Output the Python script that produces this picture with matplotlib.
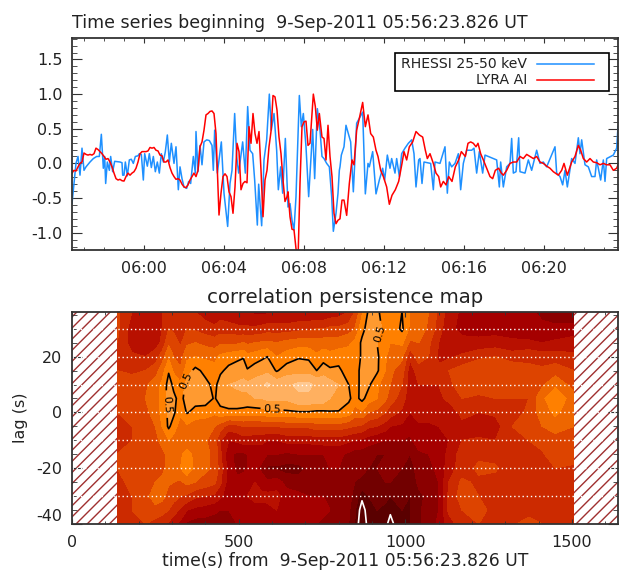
import matplotlib
matplotlib.use('Agg')
import matplotlib.pyplot as plt
import numpy as np
from matplotlib.patches import Rectangle
from matplotlib.ticker import MultipleLocator

# seconds after 05:56:24
rhessi_t = [0, 6, 12, 18, 24, 30, 36, 42, 54, 64, 74, 82, 88, 94, 98, 101, 106, 112, 116, 122, 128, 144, 150, 152, 156, 160,
            166, 172, 178, 184, 190, 198, 202, 208, 214, 218, 226, 232, 238, 244, 250, 256, 262, 268, 274, 280, 286, 292,
            298, 306, 312, 319, 324, 330, 336, 344, 350, 356, 364, 370, 372, 378, 384, 390, 396, 404, 412, 420, 424, 428,
            436, 448, 456, 467, 474, 480, 488, 494, 500, 512, 520, 527, 534, 542, 548, 556, 560, 569, 576, 584, 592, 598,
            606, 614, 619, 626, 632, 640, 648, 654, 660, 666, 672, 682, 688, 694, 702, 710, 716, 722, 728, 736, 744, 750,
            756, 764, 772, 779, 784, 792, 798, 802, 804, 808, 816, 822, 829, 836, 844, 854, 864, 872, 880, 888, 892, 902,
            912, 922, 932, 938, 946, 954, 959, 969, 974, 982, 989, 999, 1009, 1019, 1026, 1032, 1040, 1044, 1050, 1056,
            1076, 1084, 1089, 1104, 1119, 1126, 1132, 1139, 1149, 1159, 1166, 1174, 1184, 1199, 1206, 1214, 1222, 1232,
            1239, 1249, 1274, 1282, 1286, 1294, 1304, 1314, 1319, 1324, 1332, 1340, 1344, 1359, 1369, 1379, 1394, 1404,
            1414, 1424, 1449, 1454, 1464, 1472, 1479, 1486, 1499, 1509, 1519, 1524, 1529, 1539, 1549, 1559, 1569, 1574,
            1586, 1594, 1599, 1604, 1624, 1634, 1638]
rhessi_v = [-.58, -.29, 0, .10, -.17, .22, -.10, -.05, .02, .07, .10, .10, .42, -.07, .10, -.29, .02, -.10, .10, -.12, .03,
            .02, .01, -.17, -.17, .02, -.18, .05, .06, 0, .10, .11, .14, .13, -.24, .14, -.04, .14, -.06, .10, -.12, .02,
            -.14, .14, .02, .17, .41, .02, .29, 0, .24, -.38, -.05, -.22, -.34, -.36, -.26, -.29, .10, -.14, .46, -.12,
            .26, -.02, .31, .34, .33, .26, -.10, .48, -.14, .31, -.43, -.91, -.29, -.10, .72, .10, -.14, .31, -.14, .82,
            .19, .14, -.24, -.89, -.30, -.90, .05, .34, 1.0, .48, .72, .19, -.38, -.05, -.43, .36, -.63, -.58, -.82, -.96,
            -.48, .98, .53, .72, .24, -.48, 0, .49, -.22, .79, .48, .10, .07, 0, -.05, -.48, -.98, -.72, -.43, -.10, -.05,
            .12, .24, .55, .43, .31, -.41, .58, .67, .74, -.44, 0, -.05, .17, -.44, -.24, -.07, -.24, .12, -.07, .07, -.14,
            .07, -.19, .14, .22, .29, .34, .14, -.34, .05, .07, -.29, .02, 0, -.38, .02, 0, .24, -.43, .02, -.05, 0, .14,
            -.38, 0, .19, .19, .22, -.14, .17, -.14, .12, .10, .05, -.34, .02, -.34, -.05, 0, .36, -.14, -.12, .37, -.12,
            -.14, .05, -.10, .19, 0, .02, -.05, .24, -.14, -.19, -.31, -.10, -.34, .07, 0, .37, .14, .34, -.02, -.05, -.19,
            -.19, .05, -.24, .05, -.26, .07, .12, .22, .53]

lyra_t = [0, 6, 12, 18, 24, 30, 36, 42, 48, 54, 60, 66, 72, 78, 84, 90, 96, 102, 108, 114, 120, 126, 132, 138, 144, 150, 156,
          162, 168, 174, 180, 186, 192, 198, 204, 210, 216, 222, 228, 234, 240, 246, 252, 258, 264, 270, 276, 282, 288, 294,
          300, 306, 312, 318, 324, 330, 336, 342, 348, 354, 360, 366, 372, 378, 384, 390, 396, 402, 408, 414, 420, 426, 432,
          438, 441, 447, 453, 459, 465, 471, 477, 483, 489, 495, 501, 507, 513, 519, 525, 531, 537, 543, 549, 555, 561, 567,
          573, 579, 585, 591, 597, 603, 609, 615, 621, 627, 633, 639, 645, 648, 654, 660, 666, 672, 678, 684, 690, 696, 702,
          708, 714, 720, 724, 730, 736, 742, 750, 756, 762, 768, 774, 780, 786, 792, 798, 804, 810, 816, 824, 832, 840, 846,
          854, 862, 872, 880, 888, 896, 904, 912, 918, 926, 934, 944, 952, 960, 970, 980, 990, 996, 1004, 1012, 1022, 1032,
          1042, 1052, 1060, 1066, 1074, 1084, 1092, 1100, 1106, 1114, 1122, 1130, 1140, 1150, 1160, 1168, 1180, 1188, 1196,
          1204, 1212, 1218, 1226, 1234, 1244, 1254, 1262, 1270, 1280, 1288, 1294, 1304, 1314, 1324, 1334, 1344, 1354, 1364,
          1374, 1384, 1394, 1404, 1414, 1424, 1434, 1444, 1459, 1469, 1476, 1486, 1499, 1509, 1519, 1526, 1534, 1544, 1554,
          1564, 1574, 1584, 1594, 1604, 1614, 1624, 1634, 1638]
lyra_v = [-.14, -.10, -.11, -.05, 0, .02, .15, .13, .12, .13, .12, .14, .22, .20, .17, .14, .10, .06, .07, .02, -.05, -.14,
          -.22, -.24, -.23, -.25, -.255, -.19, -.14, -.17, -.14, -.12, -.07, .02, .14, .17, .17, .17, .18, .23, .22, .23,
          .19, .18, .12, .11, .02, .02, .05, -.06, -.14, -.19, -.23, -.22, -.24, -.30, -.34, -.35, -.31, -.24, -.19, -.14,
          -.19, -.10, .24, .31, .48, .70, .72, .75, .757, .72, .43, -.38, -.745, -.43, -.19, -.15, -.19, -.41, -.48, -.72,
          -.34, .29, .17, -.38, -.29, -.26, -.28, .53, .29, .72, .43, .29, .46, -.10, -.77, -.24, -.10, .24, .46, .98, .96,
          .77, .38, .14, -.24, -.55, -.48, -.41, -.77, -.95, -.96, -1.23, -1.4, -.29, .53, .60, .61, .26, .29, .72, 1.0,
          .82, .48, .72, .38, .36, .05, .55, .10, -.19, -.72, -.87, -.82, -.80, -.53, -.53, -.75, -.29, .05, -.02, .48, .65,
          .88, .53, .70, .43, .38, .19, .10, -.10, -.19, -.34, -.59, -.46, -.38, -.26, 0, .17, .05, .24, .31, .46, .41, .38,
          .19, .07, .14, 0, -.14, -.19, -.34, -.26, -.31, -.19, -.26, -.05, .05, .17, .10, .29, .31, .29, .24, .29, .14, .05,
          -.07, -.19, -.22, -.10, -.07, -.14, -.17, -.10, 0, .02, .02, .10, .07, .13, .10, .07, .10, .02, 0, -.04, -.07,
          -.12, -.17, -.10, 0, -.17, .02, .10, .26, .19, .07, .02, .07, .02, .01, -.02, 0, -.02, -.02, -.10, -.07, -.02]

# correlation map, one row per lag, one column per time
map_lag = [36, 30, 25, 20, 15, 10, 5, 0, -5, -10, -15, -20, -25, -30, -35, -40]
map_columns = {
    136: [.22, .22, .20, .18, .20, .25, .22, .20, .15, .15, .20, .20, .18, .20, .15, .12],
    180: [.10, .05, .05, .12, .18, .25, .27, .25, .20, .20, .22, .22, .22, .20, .20, .15],
    220: [.02, 0, .02, .10, .20, .28, .30, .28, .25, .25, .25, .28, .28, .28, .26, .20],
    250: [.05, .03, .05, .15, .25, .35, .35, .33, .30, .28, .27, .28, .30, .33, .28, .15],
    270: [.10, .10, .12, .25, .35, .42, .44, .44, .40, .32, .28, .29, .31, .33, .25, .12],
    290: [.15, .20, .28, .38, .49, .54, .54, .52, .52, .40, .32, .31, .31, .27, .20, .08],
    305: [.12, .18, .25, .30, .38, .48, .52, .52, .45, .36, .32, .33, .30, .24, .15, .03],
    325: [.10, .12, .18, .25, .32, .42, .47, .42, .35, .33, .38, .40, .28, .20, .08, -.03],
    345: [.12, .20, .28, .38, .45, .54, .54, .51, .38, .32, .44, .47, .33, .18, 0, -.12],
    370: [.10, .18, .30, .40, .53, .56, .55, .46, .34, .33, .37, .37, .30, .12, -.03, -.15],
    400: [.05, .15, .27, .38, .47, .53, .55, .45, .33, .31, .32, .32, .26, .10, -.05, -.15],
    428: [.03, .12, .25, .37, .44, .47, .49, .42, .30, .25, .28, .28, .22, .08, -.08, -.15],
    445: [.05, .15, .28, .42, .48, .55, .55, .46, .25, .10, .12, .15, .12, .02, -.10, -.15],
    470: [.02, .15, .28, .45, .53, .60, .58, .47, .15, 0, -.08, -.05, -.05, -.05, -.10, -.12],
    495: [0, .13, .28, .47, .56, .61, .58, .47, .17, .02, -.12, -.12, -.08, -.05, -.08, -.10],
    514: [0, .12, .30, .49, .57, .62, .58, .46, .20, .05, -.12, -.12, -.06, -.03, -.08, -.08],
    526: [0, .12, .28, .43, .51, .62, .58, .45, .20, .05, -.10, -.10, -.04, 0, -.06, -.06],
    548: [-.02, .12, .30, .45, .55, .64, .60, .45, .20, .03, -.06, -.08, 0, .03, -.04, -.05],
    568: [-.02, .13, .31, .48, .56, .67, .60, .46, .20, .03, -.06, -.12, -.05, .03, -.04, -.05],
    586: [-.02, .15, .32, .50, .57, .72, .62, .47, .20, 0, -.10, -.22, -.08, .03, -.03, -.05],
    614: [-.02, .15, .30, .40, .49, .66, .62, .47, .20, 0, -.10, -.22, -.05, .03, 0, -.03],
    644: [-.02, .15, .33, .45, .55, .68, .62, .48, .22, .03, -.12, -.24, -.14, -.05, -.02, -.05],
    680: [0, .17, .35, .49, .56, .72, .68, .49, .22, .03, -.10, -.24, -.15, -.08, -.05, -.08],
    710: [0, .18, .35, .48, .56, .72, .68, .49, .22, .03, -.10, -.18, -.15, -.10, -.06, -.10],
    734: [0, .20, .34, .42, .50, .68, .66, .48, .25, .05, -.10, -.15, -.12, -.10, -.08, -.10],
    754: [0, .20, .35, .46, .55, .68, .66, .48, .25, .05, -.10, -.13, -.12, -.10, -.08, -.12],
    774: [.03, .22, .35, .43, .52, .64, .60, .49, .25, .05, -.08, -.10, -.12, -.12, -.10, -.12],
    800: [.05, .22, .35, .46, .52, .60, .58, .49, .25, .05, -.08, -.10, -.12, -.12, -.12, -.15],
    830: [.10, .25, .38, .45, .45, .50, .52, .45, .22, .02, -.12, -.12, -.15, -.18, -.18, -.20],
    848: [.20, .30, .42, .46, .47, .47, .46, .35, .20, 0, -.15, -.15, -.20, -.22, -.28, -.30],
    870: [.38, .47, .52, .51, .52, .52, .53, .38, .18, -.02, -.15, -.18, -.22, -.37, -.46, -.50],
    890: [.52, .54, .53, .55, .55, .52, .45, .30, .12, -.05, -.18, -.20, -.25, -.30, -.33, -.35],
    915: [.53, .55, .50, .52, .52, .42, .40, .27, .10, -.08, -.20, -.20, -.22, -.28, -.30, -.30],
    940: [.42, .46, .44, .42, .40, .35, .32, .20, .05, -.10, -.20, -.18, -.20, -.27, -.33, -.37],
    955: [.40, .42, .40, .33, .32, .30, .25, .15, 0, -.10, -.17, -.17, -.20, -.30, -.38, -.44],
    990: [.50, .52, .42, .32, .25, .20, .15, .08, -.02, -.10, -.18, -.20, -.22, -.28, -.30, -.30],
    1014: [.40, .38, .28, .12, .05, .05, .03, 0, -.06, -.12, -.20, -.25, -.26, -.30, -.30, -.30],
    1040: [.38, .36, .30, .25, .15, .10, .08, .05, -.02, -.05, -.12, -.15, -.18, -.22, -.22, -.22],
    1070: [.30, .28, .22, .20, .15, .10, .08, .05, -.02, -.05, -.10, -.12, -.15, -.18, -.15, -.15],
    1100: [.18, .15, .10, .08, .12, .10, .08, .05, 0, -.03, -.05, -.08, -.10, -.10, -.10, -.08],
    1130: [.05, .02, .02, .08, .20, .18, .12, .05, .02, 0, .02, .05, .10, .12, .12, .05],
    1170: [-.02, -.02, .02, .12, .25, .24, .20, .12, .08, .10, .15, .15, .22, .25, .20, .15],
    1220: [-.03, -.03, .02, .18, .28, .25, .18, .10, .02, .12, .18, .22, .18, .20, .22, .20],
    1270: [-.03, -.04, .04, .20, .30, .30, .20, .12, .05, .10, .15, .22, .15, .12, .18, .18],
    1320: [-.05, -.05, .02, .15, .28, .28, .20, .15, .20, .20, .15, .10, .12, .10, .15, .18],
    1370: [-.08, -.08, .02, .18, .22, .22, .20, .22, .28, .20, .15, .20, .18, .10, .15, .25],
    1410: [-.12, -.08, 0, .15, .22, .28, .38, .35, .30, .25, .18, .20, .12, .15, .12, .20],
    1450: [-.15, -.08, .02, .15, .25, .38, .47, .42, .35, .25, .28, .20, .12, .18, .15, .12],
    1506: [-.18, -.06, .05, .12, .20, .25, .35, .33, .30, .25, .25, .18, .12, .10, .10, .10],
}
map_t = list(map_columns)
map_z = np.array([map_columns[t] for t in map_t]).T

map_levels = [-.6, -.3, -.2, -.1, 0, .1, .2, .3, .4, .5, .6, .7, .8]
map_colors = ['#5a0000', '#720000', '#8b0000', '#a50000', '#b81000', '#cc2a00', '#dd4400', '#ee6600',
              '#ff8000', '#ff9a30', '#ffb060', '#ffc890']

x_hour_ticks = [216, 456, 696, 936, 1176, 1416]
x_hour_labels = ['06:00', '06:04', '06:08', '06:12', '06:16', '06:20']

plt.rcParams['font.family'] = 'DejaVu Sans'
W, H = 619, 572
fig = plt.figure(figsize=(W / 100, H / 100), dpi=100)
ax1 = fig.add_axes([72 / W, 1 - 250 / H, 546 / W, 212 / H])
ax2 = fig.add_axes([72 / W, 1 - 524 / H, 546 / W, 212 / H])
ink = '#333333'
text_color = '#222222'
text_size = 11.5

# top panel
ax1.plot(rhessi_t, rhessi_v, color='#1e90ff', lw=1.1)
ax1.plot(lyra_t, lyra_v, color='#ff0000', lw=1.1)
ax1.set_xlim(0, 1638)
ax1.set_ylim(-1.25, 1.81)
ax1.set_xticks(x_hour_ticks)
ax1.set_xticklabels(x_hour_labels)
ax1.xaxis.set_minor_locator(MultipleLocator(60, offset=36))
ax1.set_yticks([-1, -.5, 0, .5, 1, 1.5])
ax1.set_yticklabels(['-1.0', '-0.5', '0.0', '0.5', '1.0', '1.5'])
ax1.yaxis.set_minor_locator(MultipleLocator(.1))

# legend box, label right aligned in front of the line
ax1.add_patch(Rectangle((323 / 546, 159 / 212), 214 / 546, 38 / 212, transform=ax1.transAxes,
                        fc='white', ec='black', lw=1.2, zorder=5))
ax1.text(455 / 546, 186 / 212, 'RHESSI 25-50 keV', transform=ax1.transAxes, ha='right', va='center',
         fontsize=10.1, color=text_color, zorder=6)
ax1.text(455 / 546, 170 / 212, 'LYRA AI', transform=ax1.transAxes, ha='right', va='center',
         fontsize=10.1, color=text_color, zorder=6)
ax1.plot([465 / 546, 522 / 546], [186 / 212, 186 / 212], transform=ax1.transAxes, color='#1e90ff', lw=1.1, zorder=6)
ax1.plot([465 / 546, 522 / 546], [170 / 212, 170 / 212], transform=ax1.transAxes, color='#ff0000', lw=1.1, zorder=6)

# bottom panel
ax2.contourf(map_t, map_lag, map_z, levels=map_levels, colors=map_colors)
black = ax2.contour(map_t, map_lag, map_z, levels=[.5], colors='black', linewidths=1.2)
ax2.contour(map_t, map_lag, map_z, levels=[-.4], colors='white', linewidths=1.2, linestyles='solid')
ax2.clabel(black, fmt='%.1f', fontsize=8, manual=[(285, 3), (345, 11), (600, 1), (925, 28)])
for lag in [30, 20, 10, 0, -10, -20, -30]:
    ax2.axhline(lag, color='white', ls=(0, (1, 2)), lw=1)
for t0, t1 in [(0, 136), (1506, 1638)]:
    ax2.add_patch(Rectangle((t0, -40), t1 - t0, 76, fc='white', ec='#a03030', hatch='///', lw=0))
ax2.set_xlim(0, 1638)
ax2.set_ylim(-40, 36)
ax2.set_xticks([0, 500, 1000, 1500])
ax2.xaxis.set_minor_locator(MultipleLocator(100))
ax2.set_yticks([-40, -20, 0, 20])
ax2.set_yticklabels(['-40', '-20', '0', '20'])
ax2.yaxis.set_minor_locator(MultipleLocator(5))
ax2.get_yticklabels()[0].set_verticalalignment('bottom')
ax2.set_ylabel('lag (s)', fontsize=text_size, labelpad=6, color=text_color)
ax2.set_xlabel('time(s) from  9-Sep-2011 05:56:23.826 UT', fontsize=12.3, labelpad=1, color=text_color)

for ax in (ax1, ax2):
    for s in ax.spines.values():
        s.set_linewidth(1.3)
        s.set_color(ink)
    ax.tick_params(which='both', direction='in', top=True, right=True, color=ink, labelsize=text_size,
                   labelcolor=text_color)
    ax.tick_params(axis='y', which='major', length=7, pad=7)
    ax.tick_params(axis='y', which='minor', length=3.5)
    ax.tick_params(axis='x', which='major', length=3.5, pad=8)
    ax.tick_params(axis='x', which='minor', length=2)

fig.text(72 / W, 1 - 28 / H, 'Time series beginning  9-Sep-2011 05:56:23.826 UT', fontsize=12.5, va='baseline',
         color=text_color)
fig.text(345 / W, 1 - 303 / H, 'correlation persistence map', fontsize=14.2, ha='center', va='baseline',
         color=text_color)

fig.savefig('out.png', dpi=100)
